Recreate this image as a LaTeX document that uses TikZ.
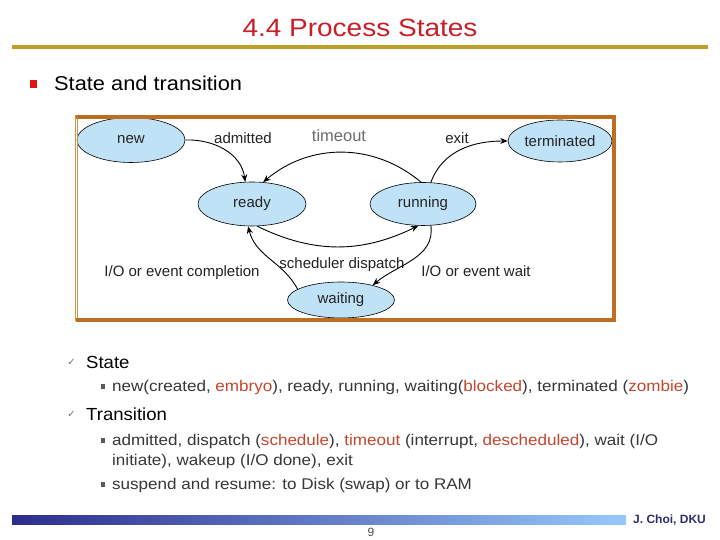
\documentclass[tikz,border=0pt]{standalone}
\usepackage{fontspec}
\setmainfont{Liberation Sans}
\newfontfamily\symfont{DejaVu Sans}
\usepackage{graphicx}
\usetikzlibrary{shapes.geometric,arrows.meta}
\definecolor{titlered}{RGB}{200,30,40}
\definecolor{gold}{RGB}{190,160,40}
\definecolor{framebrown}{RGB}{190,110,30}
\definecolor{frameleft}{RGB}{205,150,70}
\definecolor{stfill}{RGB}{192,226,246}
\definecolor{lbl}{RGB}{35,35,35}
\definecolor{bodygray}{RGB}{55,55,55}
\definecolor{emphc}{RGB}{195,70,45}
\definecolor{barL}{RGB}{45,45,140}
\definecolor{barR}{RGB}{150,200,250}
\definecolor{dku}{RGB}{45,45,115}
\definecolor{bulletred}{RGB}{220,20,20}
\newcommand{\hs}[2]{\scalebox{#1}[1]{#2}}
\begin{document}
\begin{tikzpicture}[x=1pt,y=1pt,
  stnode/.style={ellipse, draw=black, line width=0.6pt, fill=stfill, inner sep=0pt,
    font=\fontsize{15}{18}\selectfont, text=lbl},
  tr/.style={-{Stealth[length=7.5pt,width=6pt]}, line width=0.9pt, black},
  lab/.style={font=\fontsize{15}{18}\selectfont, text=lbl, anchor=base, inner sep=0pt},
  body/.style={anchor=base west, inner sep=0pt, text=bodygray, font=\fontsize{15.5}{18}\selectfont},
  head/.style={anchor=base west, inner sep=0pt, text=black, font=\fontsize{17.5}{20}\selectfont},
  chk/.style={anchor=base east, inner sep=0pt, text=black!55, font=\symfont\fontsize{10}{12}\selectfont},
  sqb/.style={fill=black!65, minimum size=4.5pt, inner sep=0pt}
]
\useasboundingbox (0,0) rectangle (720,540);
\fill[white] (0,0) rectangle (720,540);

% title
\node[anchor=base, inner sep=0pt, text=titlered, font=\fontsize{25}{30}\selectfont] (title) at (360,503) {\hs{1.12}{4.4 Process States}};
\fill[gold] (12,491) rectangle (708,495);

% top bullet
\node[fill=bulletred, minimum size=7.5pt, inner sep=0pt] (b0) at (33.5,456) {};
\node[anchor=base west, inner sep=0pt, text=black, font=\fontsize{20}{24}\selectfont] (sat) at (54,449.5) {\hs{1.09}{State and transition}};

% states
\node[stnode, minimum width=108pt, minimum height=45pt] (new) at (131,400) {new};
\node[stnode, minimum width=108pt, minimum height=44pt] (ready) at (252,336) {ready};
\node[stnode, minimum width=106pt, minimum height=43pt] (running) at (423,336) {running};
\node[stnode, minimum width=104pt, minimum height=42pt] (term) at (560,399) {terminated};
\node[stnode, minimum width=107pt, minimum height=36pt] (waiting) at (341,240) {waiting};

% transitions
\draw[tr] (new.east) to[out=2,in=98] (ready.107);
\draw[tr] (running.95) to[out=140,in=40] (ready.63);
\draw[tr] (running.70) to[out=70,in=180] (term.west);
\draw[tr] (ready.-77) to[out=-26,in=-154] (running.-102);
\draw[tr] (waiting.166) to[out=118,in=-76] (ready.-100);
\draw[tr] (running.-70) to[out=-82,in=40] (waiting.25);

% transition labels
\node[lab] (ladm) at (243,396.5) {admitted};
\node[lab, text=black!58, font=\fontsize{16.5}{19}\selectfont] (lto) at (339,398) {timeout};
\node[lab] (lexit) at (457,396.5) {exit};
\node[lab] (lsd) at (342,271.5) {scheduler dispatch};
\node[lab] (lioc) at (182,263.5) {I/O or event completion};
\node[lab] (liow) at (476,263.5) {I/O or event wait};

% frame
\draw[framebrown, line width=3.5pt] (76,423) -- (614,423) -- (614,220) -- (76,220);
\draw[frameleft, line width=0.8pt] (75,424.5) -- (75,218.5);
\draw[frameleft, line width=0.8pt] (77.5,421.5) -- (77.5,221.5);

% body text
\node[chk] (c1) at (76,174) {✓};
\node[head] (hstate) at (86,171) {\hs{1.06}{State}};
\node[sqb] (s1) at (103,153.5) {};
\node[body] (t1) at (112,148) {\hs{1.1}{new(created, \textcolor{emphc}{embryo}), ready, running, waiting(\textcolor{emphc}{blocked}), terminated (\textcolor{emphc}{zombie})}};
\node[chk] (c2) at (76,122) {✓};
\node[head] (htr) at (86,119) {\hs{1.06}{Transition}};
\node[sqb] (s2) at (103,99.5) {};
\node[body] (t2) at (112,94) {\hs{1.1}{admitted, dispatch (\textcolor{emphc}{schedule}), \textcolor{emphc}{timeout} (interrupt, \textcolor{emphc}{descheduled}), wait (I/O}};
\node[body] (t3) at (112,74) {\hs{1.1}{initiate), wakeup (I/O done), exit}};
\node[sqb] (s3) at (103,55.5) {};
\node[body] (t4) at (112,50) {\hs{1.1}{suspend and resume: to Disk (swap) or to RAM}};

% footer
\shade[left color=barL, right color=barR] (12,15) rectangle (626,24);
\node[anchor=base, inner sep=0pt, text=black!70, font=\fontsize{12}{14}\selectfont] (pg) at (371,3) {9};
\node[anchor=west, inner sep=0pt, text=dku, font=\bfseries\fontsize{12}{14}\selectfont] (auth) at (633,19.5) {J. Choi, DKU};
\end{tikzpicture}
\end{document}
